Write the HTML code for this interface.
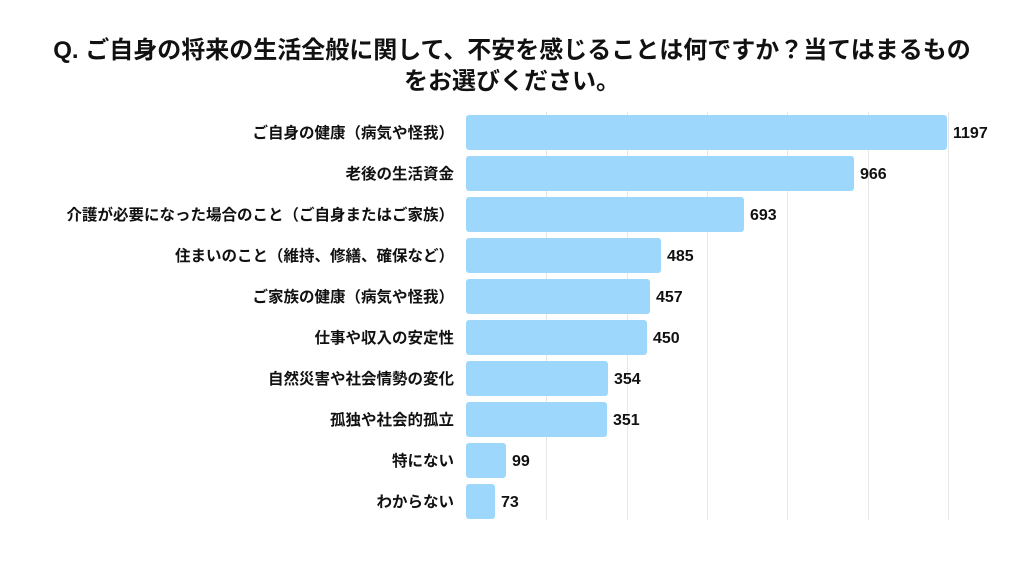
<!DOCTYPE html>
<html><head><meta charset="utf-8"><style>
body{margin:0;width:1024px;height:576px;background:#fff;font-family:"Liberation Sans","Noto Sans CJK JP",sans-serif;overflow:hidden}
</style></head><body>
<svg width="1024" height="576" xmlns="http://www.w3.org/2000/svg" style="font-family:'Liberation Sans','Noto Sans CJK JP',sans-serif">
<text x="512" y="58" text-anchor="middle" font-size="24" font-weight="bold" fill="#111">Q. ご自身の将来の生活全般に関して、不安を感じることは何ですか？当てはまるもの</text>
<text x="512" y="89" text-anchor="middle" font-size="24" font-weight="bold" fill="#111">をお選びください。</text>
<g stroke="#e6e6e6" stroke-width="1">
<line x1="546.5" y1="112" x2="546.5" y2="520"/><line x1="627.5" y1="112" x2="627.5" y2="520"/>
<line x1="707.5" y1="112" x2="707.5" y2="520"/><line x1="787.5" y1="112" x2="787.5" y2="520"/>
<line x1="868.5" y1="112" x2="868.5" y2="520"/><line x1="948.5" y1="112" x2="948.5" y2="520"/>
</g>
<g fill="#9dd8fc">
<rect x="466" y="115" width="481" height="35" rx="3"/>
<rect x="466" y="156" width="388" height="35" rx="3"/>
<rect x="466" y="197" width="278" height="35" rx="3"/>
<rect x="466" y="238" width="195" height="35" rx="3"/>
<rect x="466" y="279" width="184" height="35" rx="3"/>
<rect x="466" y="320" width="181" height="35" rx="3"/>
<rect x="466" y="361" width="142" height="35" rx="3"/>
<rect x="466" y="402" width="141" height="35" rx="3"/>
<rect x="466" y="443" width="40" height="35" rx="3"/>
<rect x="466" y="484" width="29" height="35" rx="3"/>
</g>
<g font-size="16" font-weight="bold" fill="#111">
<text x="953" y="138">1197</text><text x="860" y="179">966</text><text x="750" y="220">693</text>
<text x="667" y="261">485</text><text x="656" y="302">457</text><text x="653" y="343">450</text>
<text x="614" y="384">354</text><text x="613" y="425">351</text><text x="512" y="466">99</text>
<text x="501" y="507">73</text>
</g>
<g font-size="15.5" font-weight="bold" fill="#111" text-anchor="end">
<text x="454" y="138">ご自身の健康（病気や怪我）</text>
<text x="454" y="179">老後の生活資金</text>
<text x="454" y="220">介護が必要になった場合のこと（ご自身またはご家族）</text>
<text x="454" y="261">住まいのこと（維持、修繕、確保など）</text>
<text x="454" y="302">ご家族の健康（病気や怪我）</text>
<text x="454" y="343">仕事や収入の安定性</text>
<text x="454" y="384">自然災害や社会情勢の変化</text>
<text x="454" y="425">孤独や社会的孤立</text>
<text x="454" y="466">特にない</text>
<text x="454" y="507">わからない</text>
</g>
</svg>
</body></html>
